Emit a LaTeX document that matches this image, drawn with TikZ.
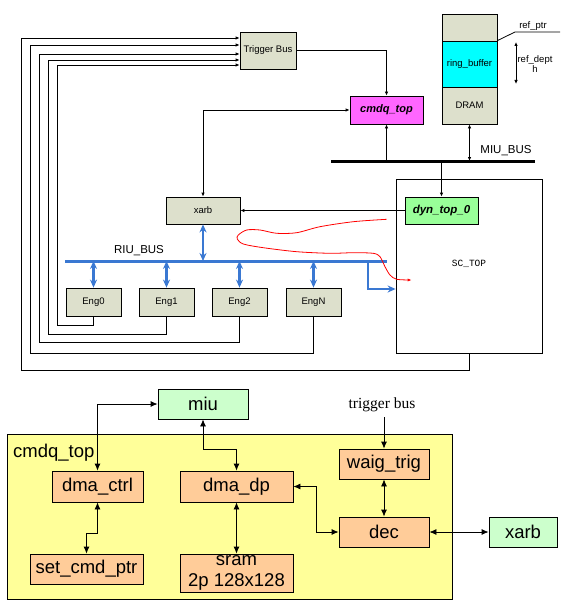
\documentclass[tikz,border=0pt]{standalone}
\usepackage{fontspec}
\setmainfont{Liberation Sans}
\newfontfamily\seriffont{Liberation Serif}
\newfontfamily\monofont{Liberation Mono}
\usetikzlibrary{arrows.meta,calc}
\definecolor{boxgrey}{RGB}{221,224,204}
\definecolor{magbox}{RGB}{255,102,255}
\definecolor{greenbox}{RGB}{153,255,153}
\definecolor{cyanbox}{RGB}{0,255,255}
\definecolor{yelbox}{RGB}{255,255,153}
\definecolor{orabox}{RGB}{255,204,153}
\definecolor{lgreen}{RGB}{204,255,204}
\definecolor{busblue}{RGB}{58,120,210}
\begin{document}
\begin{tikzpicture}[x=1pt,y=-1pt,
  gbox/.style={draw, fill=boxgrey, inner sep=0pt, line width=0.8pt, font=\fontsize{9.5}{11}\selectfont},
  sarr/.style={line width=0.8pt, -{Latex[length=4pt,width=3.5pt]}},
  sdarr/.style={line width=0.8pt, {Latex[length=4pt,width=3.5pt]}-{Latex[length=4pt,width=3.5pt]}},
  barr/.style={draw=busblue, line width=2.5pt, {Stealth[length=8pt,width=7pt]}-{Stealth[length=8pt,width=7pt]}},
  obox/.style={draw, fill=orabox, inner sep=0pt, line width=0.8pt, font=\fontsize{18.5}{22}\selectfont},
  lgbox/.style={draw, fill=lgreen, inner sep=0pt, line width=0.8pt, font=\fontsize{18.5}{22}\selectfont},
  bdarr/.style={line width=0.8pt, {Latex[length=7pt,width=6pt]}-{Latex[length=7pt,width=6pt]}},
  barw/.style={line width=0.8pt, -{Latex[length=7pt,width=6pt]}},
  lbl/.style={inner sep=0pt}
]
\useasboundingbox (0,0) rectangle (560,607);

% ---------------- top diagram ----------------
\node[draw, line width=0.8pt, minimum width=146pt, minimum height=174pt, inner sep=0pt] (sctop) at (469,266) {};
\node[lbl, font=\monofont\fontsize{9.5}{11}\selectfont] (sclabel) at (469,264) {SC\_TOP};

\node[gbox, minimum width=56pt, minimum height=37pt] (trig) at (268,50.5) {Trigger Bus};
\node[gbox, minimum width=74pt, minimum height=27pt] (xarb) at (203,210.5) {xarb};
\node[gbox, minimum width=55pt, minimum height=28pt] (eng0) at (93.5,302) {Eng0};
\node[gbox, minimum width=55pt, minimum height=28pt] (eng1) at (166.5,302) {Eng1};
\node[gbox, minimum width=55pt, minimum height=28pt] (eng2) at (239.5,302) {Eng2};
\node[gbox, minimum width=55pt, minimum height=28pt] (engN) at (313.5,302) {EngN};
\node[draw, fill=magbox, line width=0.8pt, inner sep=0pt, minimum width=73pt, minimum height=28pt,
      font=\bfseries\itshape\fontsize{11}{13}\selectfont] (cmdq) at (386.5,110) {cmdq\_top};
\node[draw, fill=greenbox, line width=0.8pt, inner sep=0pt, minimum width=73pt, minimum height=27pt,
      font=\bfseries\itshape\fontsize{11.5}{13}\selectfont] (dyn) at (441.5,210.5) {dyn\_top\_0};

% DRAM stack
\node[gbox, minimum width=55pt, minimum height=27pt] (rtop) at (469.5,27.5) {};
\node[gbox, fill=cyanbox, minimum width=55pt, minimum height=46pt] (ring) at (469.5,64) {ring\_buffer};
\node[gbox, minimum width=55pt, minimum height=37pt] (dram) at (469.5,105.5) {DRAM};

% MIU bus
\coordinate (miuW) at (331,161);
\coordinate (miuE) at (535,161);
\draw[line width=3pt] (miuW) -- (miuE);
\node[lbl, font=\fontsize{11.5}{13}\selectfont] (miulabel) at (506,151) {MIU\_BUS};

\draw[sarr] (cmdq.south |- miuW) -- (cmdq.south);
\draw[sarr] (dyn.north |- miuW) -- (dyn.north);
\draw[sdarr] (dram.south) -- (dram.south |- miuW);
\draw[sarr] (trig.east) -| (cmdq.north);
\draw[sdarr] (cmdq.west) -| (xarb.north);
\draw[sarr] (dyn.west) -- (xarb.east);

% ref_ptr / ref_depth
\coordinate (rp1) at (515,32);
\coordinate (rp2) at (560,32);
\draw[line width=0.8pt] (ring.north east) -- (rp1) -- (rp2);
\node[lbl, font=\fontsize{9.5}{11}\selectfont] (rplabel) at (533,26) {ref\_ptr};
\coordinate (rd1) at (516,42);
\coordinate (rd2) at (516,84);
\draw[sdarr] (rd1) -- (rd2);
\node[lbl, font=\fontsize{9.5}{10}\selectfont, align=center] (rdlabel) at (535,64) {ref\_dept\\h};

% RIU bus
\coordinate (riuW) at (65,261);
\coordinate (riuE) at (387,261);
\draw[draw=busblue, line width=3pt] (riuW) -- (riuE);
\node[lbl, font=\fontsize{11.5}{13}\selectfont] (riulabel) at (139,251) {RIU\_BUS};
\draw[barr] (eng0.north |- riuW) -- (eng0.north);
\draw[barr] (eng1.north |- riuW) -- (eng1.north);
\draw[barr] (eng2.north |- riuW) -- (eng2.north);
\draw[barr] (engN.north |- riuW) -- (engN.north);
\draw[barr] (xarb.south) -- (xarb.south |- riuW);
\coordinate (br) at (368,261);
\draw[draw=busblue, line width=2.5pt, -{Stealth[length=8pt,width=7pt]}] (br) |- ($(sctop.west)+(0,23)$);

% loops to Trigger Bus
\draw[sarr] (eng0.south) |- (57,325) |- ($(trig.west)+(0,14.5)$);
\draw[sarr] (eng1.south) |- (48,334) |- ($(trig.west)+(0,9.5)$);
\draw[sarr] (eng2.south) |- (39,342) |- ($(trig.west)+(0,3.5)$);
\draw[sarr] (engN.south) |- (30,353) |- ($(trig.west)+(0,-5.5)$);
\draw[sarr] (sctop.south) |- (21,370) |- ($(trig.west)+(0,-12.5)$);

% red path
\draw[red, line width=0.8pt, -{Latex[length=4pt,width=3pt]}] plot[smooth, tension=0.5] coordinates {
 (386.7,219.3) (353.3,221.7) (320,226.7) (296.7,232.7) (276.7,233.3) (260,230) (246.7,230)
 (238.3,235) (237.3,239) (243.3,244) (263.3,247.7) (296.7,251.7) (330,253.3) (353.3,252.7)
 (373.3,253.3) (380,256.7) (385,266.7) (390,275) (396.7,279.3) (411.7,280)};

% ---------------- bottom diagram ----------------
\node[draw, fill=yelbox, line width=0.8pt, inner sep=0pt, minimum width=445pt, minimum height=165pt] (cmdqbig) at (229.5,516.5) {};
\node[lbl, anchor=base west, font=\fontsize{18.5}{22}\selectfont] (cmdqlabel) at (13,457) {cmdq\_top};

\node[lgbox, minimum width=90pt, minimum height=30pt] (miu) at (203,404) {miu};
\node[obox, minimum width=91pt, minimum height=31pt] (dmactrl) at (97.5,486.5) {dma\_ctrl};
\node[obox, minimum width=113pt, minimum height=30pt] (setcmd) at (86.5,569) {set\_cmd\_ptr};
\node[obox, minimum width=113pt, minimum height=31pt] (dmadp) at (236.5,486.5) {dma\_dp};
\node[obox, minimum width=113pt, minimum height=38pt, align=center, font=\fontsize{18.5}{21}\selectfont] (sram) at (236.5,573) {sram\\2p 128x128};
\node[obox, minimum width=90pt, minimum height=30pt] (waig) at (384,464) {waig\_trig};
\node[obox, minimum width=90pt, minimum height=30pt] (dec) at (384,532) {dec};
\node[lgbox, minimum width=68pt, minimum height=30pt] (xarb2) at (523,532) {xarb};
\node[lbl, font=\seriffont\fontsize{15.5}{17}\selectfont] (tblabel) at (382,405) {trigger bus};

\draw[bdarr] (miu.west) -| (dmactrl.north);
\draw[bdarr] (miu.south) -- ++(0,30) -| (dmadp.north);
\draw[bdarr] (dmactrl.south) -- ++(0,31) -| (setcmd.north);
\draw[bdarr] (dmadp.south) -- (sram.north);
\draw[barw] ($(waig.north |- tblabel.south)+(0,5)$) -- (waig.north);
\draw[bdarr] (waig.south) -- (dec.north);
\draw[bdarr] (dmadp.east) -- ++(23,0) |- (dec.west);
\draw[bdarr] (dec.east) -- (xarb2.west);
\end{tikzpicture}
\end{document}
